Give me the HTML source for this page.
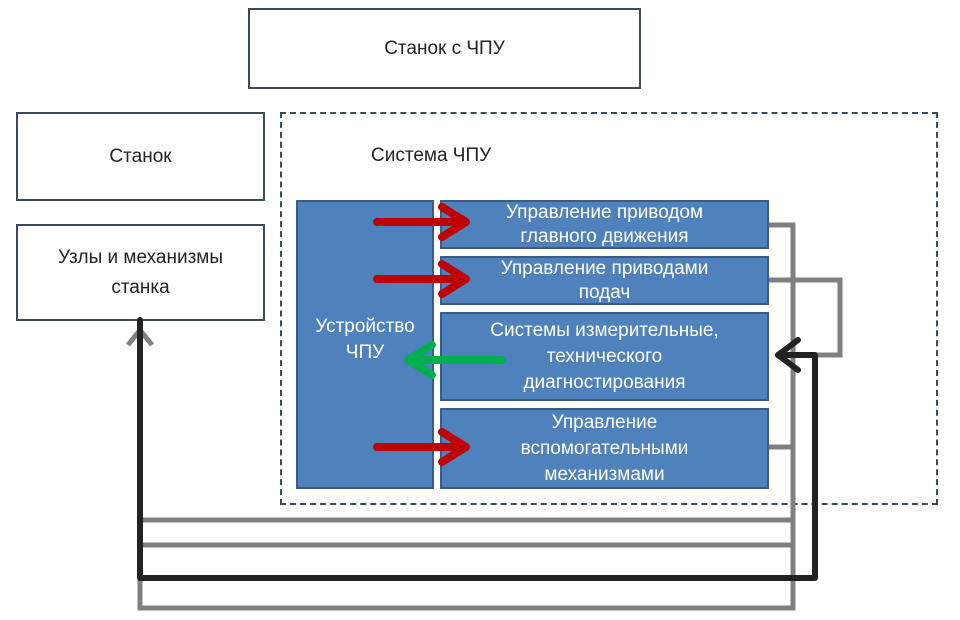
<!DOCTYPE html>
<html><head><meta charset="utf-8"><style>
body{margin:0;width:960px;height:620px;background:#fff;overflow:hidden;position:relative;font-family:"Liberation Sans","Noto Sans CJK SC",sans-serif}
.b{position:absolute;box-sizing:border-box;display:flex;align-items:center;justify-content:center;text-align:center}
.w{border:2px solid #3e4a54;background:#fff;color:#222;font-size:19px;line-height:30px}
.u{background:#4f81bd;border:2px solid #385d8a;color:#fff;font-size:19px;line-height:26px}
</style></head><body>
<div class="b w" style="left:248px;top:8px;width:393px;height:81px">Станок с ЧПУ</div>
<div class="b w" style="left:16px;top:112px;width:249px;height:89px">Станок</div>
<div class="b w" style="left:16px;top:224px;width:249px;height:97px">Узлы и механизмы<br>станка</div>
<div class="b" style="left:280px;top:112px;width:658px;height:393px;border:2px dashed #3e4a54"></div>
<div style="position:absolute;left:371px;top:145px;font-size:19px;color:#222">Система ЧПУ</div>
<div class="b u" style="left:296px;top:200px;width:138px;height:289px;padding-bottom:10px">Устройство<br>ЧПУ</div>
<div class="b u" style="left:440px;top:200px;width:329px;height:49px;line-height:24px">Управление приводом<br>главного движения</div>
<div class="b u" style="left:440px;top:256px;width:329px;height:49px;line-height:24px">Управление приводами<br>подач</div>
<div class="b u" style="left:440px;top:312px;width:329px;height:89px">Системы измерительные,<br>технического<br>диагностирования</div>
<div class="b u" style="left:440px;top:408px;width:329px;height:81px">Управление<br>вспомогательными<br>механизмами</div>
<svg width="960" height="620" style="position:absolute;left:0;top:0" fill="none">
<g stroke="#808080" stroke-width="5">
<path d="M769 225H793V608H140V330"/>
<path d="M769 280H840V355H815"/>
<path d="M769 447H793"/>
<path d="M140 520H793M140 545H793"/>
<path d="M128 345L140 330L152 345"/>
</g>
<g stroke="#222" stroke-width="6" stroke-linejoin="round" stroke-linecap="round">
<path d="M140 320V578H815V355H778"/>
<path d="M798 340L778 355L798 370"/>
</g>
<g stroke="#c00000" stroke-width="8" stroke-linecap="round" stroke-linejoin="round">
<path d="M377 222H462M442 207L466 222L442 237"/>
<path d="M377 279H462M442 264L466 279L442 294"/>
<path d="M377 447H462M442 432L466 447L442 462"/>
</g>
<g stroke="#00b050" stroke-width="8" stroke-linecap="round" stroke-linejoin="round">
<path d="M502 360H412M432 345L408 360L432 375"/>
</g>
</svg>
</body></html>
